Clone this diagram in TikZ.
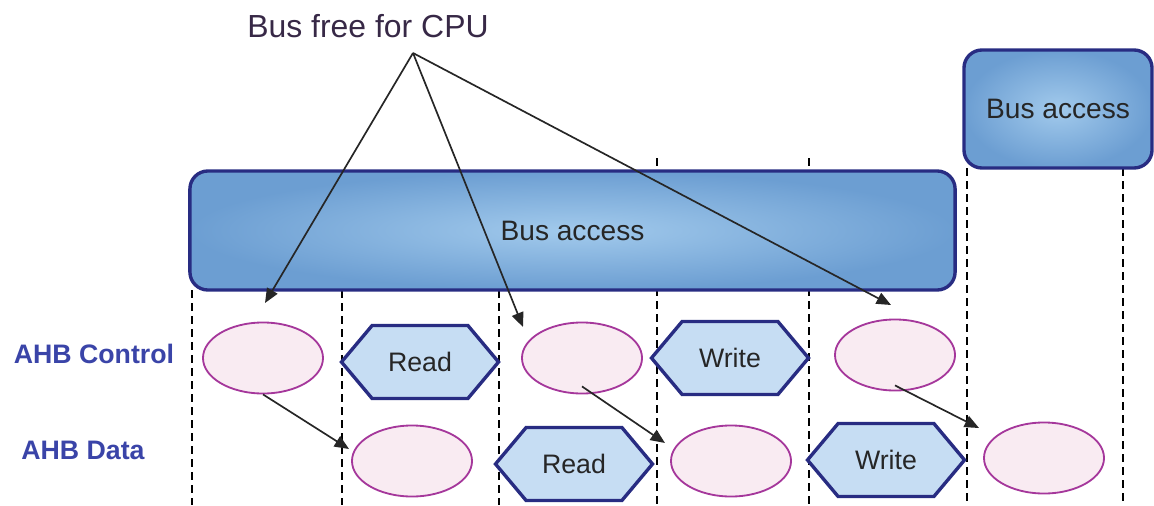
\documentclass[tikz,border=0pt]{standalone}
\usepackage{fontspec}
\setmainfont{Liberation Sans}
\usetikzlibrary{shapes.geometric,shapes.symbols,arrows.meta,calc}
\definecolor{navy}{RGB}{40,44,130}
\definecolor{boxout}{RGB}{108,158,210}
\definecolor{boxin}{RGB}{162,202,236}
\definecolor{hexfill}{RGB}{198,221,243}
\definecolor{ellfill}{RGB}{249,235,242}
\definecolor{elldraw}{RGB}{165,55,155}
\definecolor{lblblue}{RGB}{58,68,168}
\definecolor{cputext}{RGB}{55,40,70}
\tikzset{
  busbox/.style={rectangle,rounded corners=0.45cm,draw=navy,line width=2.4pt,
    inner color=boxin,outer color=boxout,align=center,
    font=\fontsize{20}{24}\selectfont,text=black!85},
  phasebox/.style={signal,signal to=east and west,signal pointer angle=100,
    draw=navy,line width=2.4pt,fill=hexfill,
    minimum width=3.925cm,minimum height=1.825cm,inner sep=0pt,
    font=\fontsize{19}{23}\selectfont,text=black!85},
  idlebox/.style={ellipse,draw=elldraw,line width=1.3pt,fill=ellfill,
    minimum width=3cm,minimum height=1.775cm,inner sep=0pt},
  rowlabel/.style={font=\bfseries\fontsize{19}{23}\selectfont,text=lblblue},
  slot/.style={black,line width=1.5pt,dash pattern=on 0.2cm off 0.125cm},
  arrow/.style={-{Triangle[length=0.36cm,width=0.3cm]},line width=1.2pt,draw=black!85},
}

\begin{document}
\begin{tikzpicture}[x=0.025cm,y=-0.025cm]
  \useasboundingbox (0,0) rectangle (1154,505);
  % slot borders
  \foreach \sx/\sy in {192/290,342/290,499/290,657/158,809/158,967/168,1123/168}
    \draw[slot] (\sx,\sy) -- (\sx,505);
  % bus phases
  \node[busbox,minimum width=19.125cm,minimum height=2.975cm] (bus1) at (572.5,230.5) {Bus access};
  \node[busbox,minimum width=4.7cm,minimum height=2.95cm] (bus2) at (1058,109) {Bus access};
  % rows
  \node[rowlabel] (ctrl) at (94,354) {AHB Control};
  \node[rowlabel] (data) at (83,450) {AHB Data};
  \node[idlebox]  (c1) at (263,358) {};
  \node[phasebox] (c2) at (420,362) {Read};
  \node[idlebox]  (c3) at (582,358) {};
  \node[phasebox] (c4) at (730,358) {Write};
  \node[idlebox]  (c5) at (895,355) {};
  \node[idlebox]  (d1) at (412,461) {};
  \node[phasebox] (d2) at (574,464) {Read};
  \node[idlebox]  (d3) at (731,461) {};
  \node[phasebox] (d4) at (886,460) {Write};
  \node[idlebox]  (d5) at (1044,458) {};
  % free bus
  \node[font=\fontsize{22.7}{26}\selectfont,text=cputext] (cpu) at (368,26) {Bus free for CPU};
  \coordinate (fork) at (413,53);
  \coordinate (free1) at (265,303);
  \coordinate (free2) at (523,327);
  \coordinate (free3) at (891,305);
  \draw[arrow] (fork) -- (free1);
  \draw[arrow] (fork) -- (free2);
  \draw[arrow] (fork) -- (free3);
  % address to data
  \coordinate (in1) at (349,449);
  \coordinate (in2) at (665,443);
  \coordinate (in3) at (979,428);
  \draw[arrow] (c1.south) -- (in1);
  \draw[arrow] ([yshift=0.2cm]c3.south) -- (in2);
  \draw[arrow] ([yshift=0.15cm]c5.south) -- (in3);
\end{tikzpicture}
\end{document}
